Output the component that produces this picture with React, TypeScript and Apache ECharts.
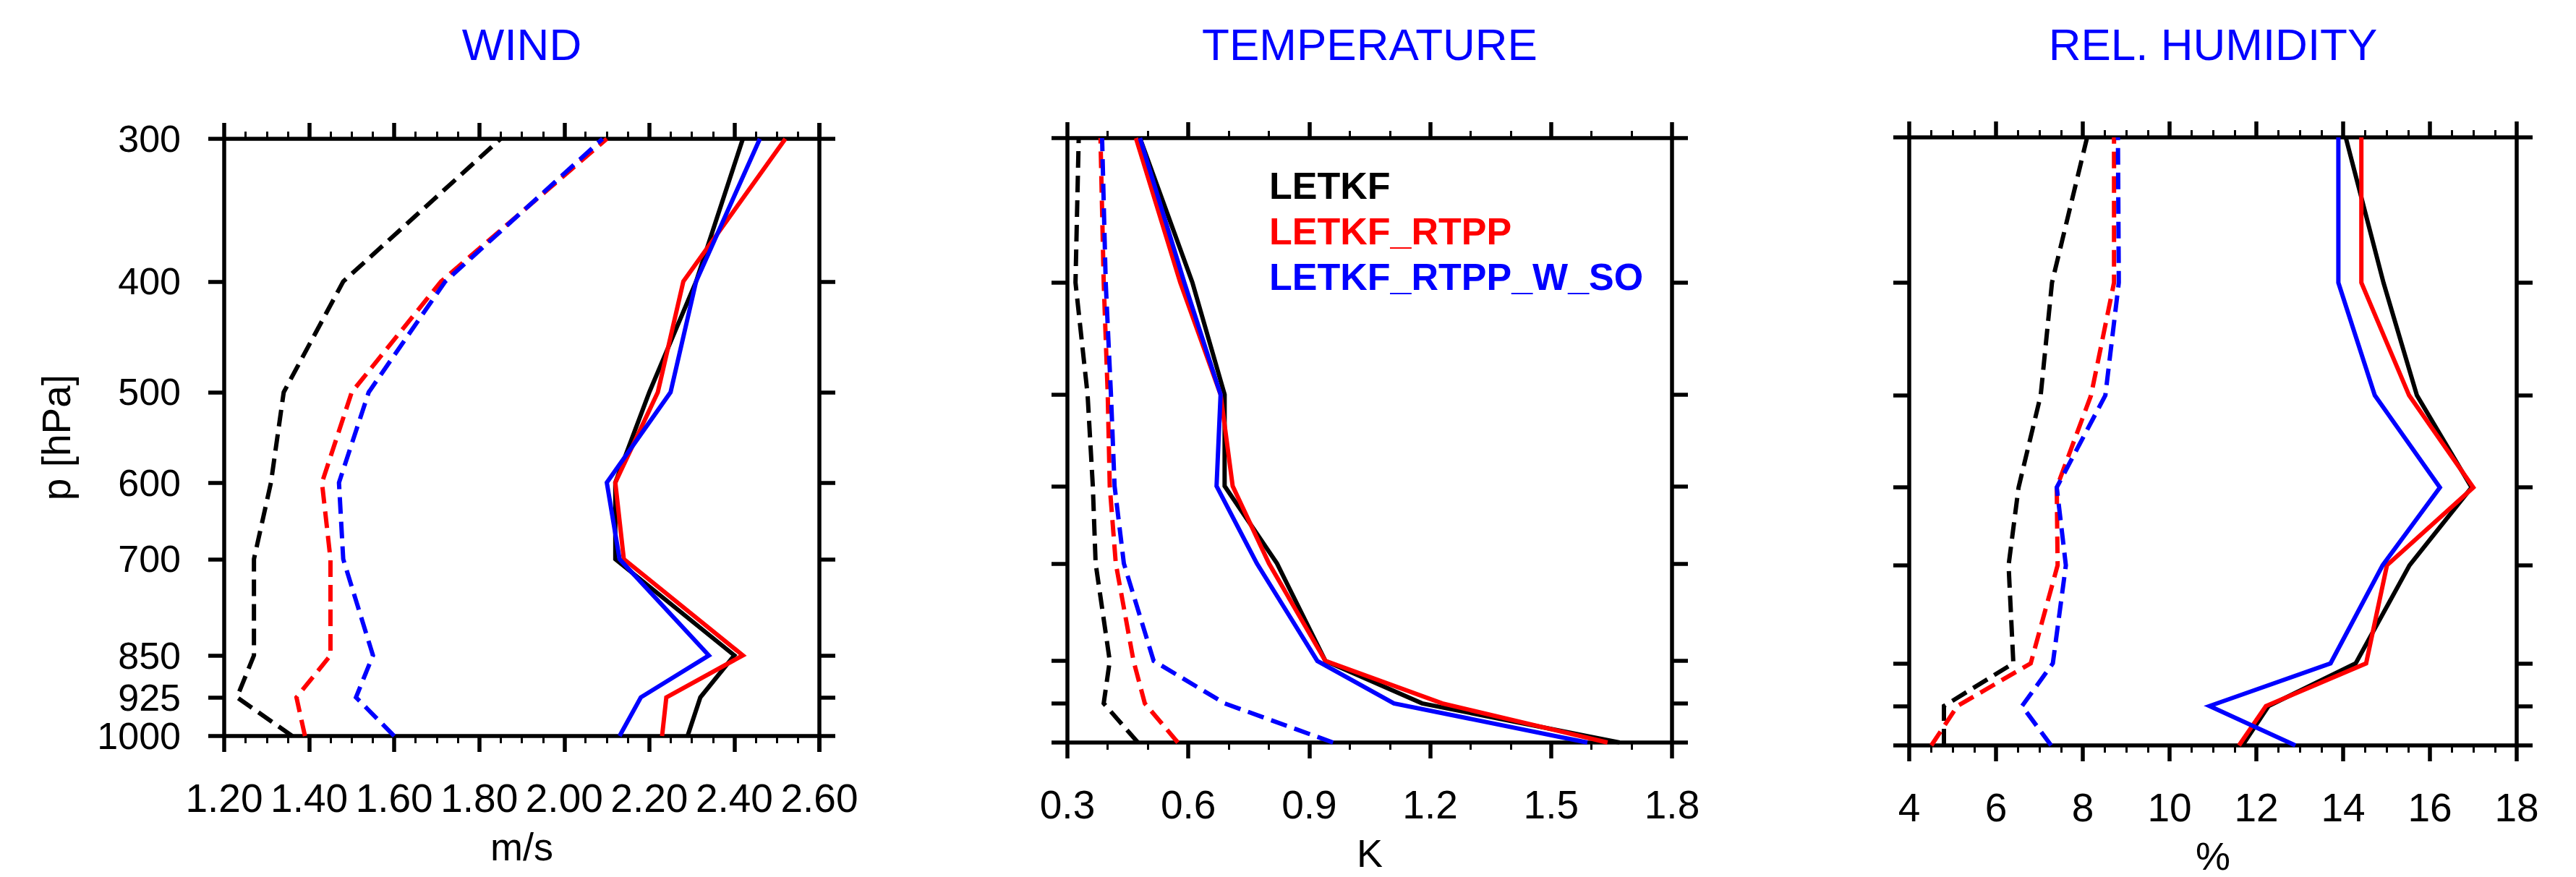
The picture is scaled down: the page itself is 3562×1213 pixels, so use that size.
import React, { useEffect, useRef } from 'react';
import * as echarts from 'echarts';

const FONT = '"Liberation Sans", Arial, Helvetica, sans-serif';

// Pressure levels (hPa) at which every profile is given, from the surface upward
const pressureLevels = [1000, 925, 850, 700, 600, 500, 400, 300];
// Tick labels of the pressure axis
const pressureTicks = [300, 400, 500, 600, 700, 850, 925, 1000];

const experiments = ['LETKF', 'LETKF_RTPP', 'LETKF_RTPP_W_SO'];
const experimentColors = ['#000000', '#ff0000', '#0000ff'];

const panelTitles = ['WIND', 'TEMPERATURE', 'REL. HUMIDITY'];
const panelUnits = ['m/s', 'K', '%'];

// x-axis tick labels
const windTicks = [1.2, 1.4, 1.6, 1.8, 2.0, 2.2, 2.4, 2.6];
const tempTicks = [0.3, 0.6, 0.9, 1.2, 1.5, 1.8];
const humTicks = [4, 6, 8, 10, 12, 14, 16, 18];

// WIND (m/s), values at pressureLevels
const windSolidLETKF = [2.29, 2.32, 2.40, 2.12, 2.12, 2.20, 2.31, 2.42];
const windSolidRTPP = [2.23, 2.24, 2.42, 2.14, 2.12, 2.22, 2.28, 2.52];
const windSolidRTPPWSO = [2.13, 2.18, 2.34, 2.13, 2.10, 2.25, 2.31, 2.46];
const windDashedLETKF = [1.36, 1.23, 1.27, 1.27, 1.31, 1.34, 1.48, 1.85];
const windDashedRTPP = [1.39, 1.37, 1.45, 1.45, 1.43, 1.50, 1.71, 2.10];
const windDashedRTPPWSO = [1.60, 1.51, 1.55, 1.48, 1.47, 1.54, 1.72, 2.09];

// TEMPERATURE (K)
const tempSolidLETKF = [1.67, 1.18, 0.94, 0.82, 0.69, 0.69, 0.61, 0.48];
const tempSolidRTPP = [1.64, 1.23, 0.94, 0.80, 0.71, 0.68, 0.58, 0.47];
const tempSolidRTPPWSO = [1.59, 1.11, 0.92, 0.77, 0.67, 0.68, 0.59, 0.48];
const tempDashedLETKF = [0.475, 0.39, 0.405, 0.37, 0.363, 0.35, 0.32, 0.328];
const tempDashedRTPP = [0.574, 0.492, 0.464, 0.42, 0.405, 0.40, 0.39, 0.382];
const tempDashedRTPPWSO = [0.959, 0.69, 0.514, 0.44, 0.417, 0.408, 0.395, 0.386];

// REL. HUMIDITY (%)
const humSolidLETKF = [11.68, 12.28, 14.29, 15.53, 16.96, 15.70, 14.93, 14.06];
const humSolidRTPP = [11.60, 12.22, 14.53, 15.01, 17.00, 15.52, 14.42, 14.42];
const humSolidRTPPWSO = [12.90, 10.92, 13.71, 14.91, 16.23, 14.73, 13.89, 13.89];
const humDashedLETKF = [4.80, 4.80, 6.40, 6.29, 6.52, 7.03, 7.29, 8.10];
const humDashedRTPP = [4.51, 5.11, 6.80, 7.42, 7.40, 8.19, 8.72, 8.72];
const humDashedRTPPWSO = [7.27, 6.60, 7.31, 7.61, 7.40, 8.52, 8.83, 8.81];

const panelTicks = [windTicks, tempTicks, humTicks];
const panelDecimals = [2, 1, 0];
const panelMinorSplits = [4, 3, 4];
const panelSolid = [
  [windSolidLETKF, windSolidRTPP, windSolidRTPPWSO],
  [tempSolidLETKF, tempSolidRTPP, tempSolidRTPPWSO],
  [humSolidLETKF, humSolidRTPP, humSolidRTPPWSO],
];
const panelDashed = [
  [windDashedLETKF, windDashedRTPP, windDashedRTPPWSO],
  [tempDashedLETKF, tempDashedRTPP, tempDashedRTPPWSO],
  [humDashedLETKF, humDashedRTPP, humDashedRTPPWSO],
];

// layout (pixels)
const gridBoxes = [
  { left: 310, top: 192, width: 823, height: 826 },
  { left: 1476, top: 191, width: 836, height: 836 },
  { left: 2640, top: 190, width: 840, height: 841 },
];

const AXIS_W = 5.5;
const LINE_W = 6;

function buildOption() {
  const axisLine = { show: true, onZero: false, lineStyle: { color: '#000', width: AXIS_W } };
  const axisTick = { show: true, inside: false, length: 22, lineStyle: { color: '#000', width: AXIS_W } };
  const yLabelStyle = {
    margin: 60,
    fontSize: 52,
    lineHeight: 40,
    color: '#000',
    fontFamily: FONT,
    formatter: (v: number) => String(Math.round(v)),
  };
  // 925 sits very close to 1000; it is drawn by a second, line-less axis of the
  // same scale so that the library's overlap logic does not drop either label.
  const mainPressureLabels = pressureTicks.filter((p) => p !== 925);
  const closePressureLabels = pressureTicks.filter((p) => p === 925);

  const xAxes: any[] = [];
  const yAxes: any[] = [];
  const topAxes: any[] = [];
  const rightAxes: any[] = [];
  const extraAxes: any[] = [];
  const series: any[] = [];

  panelTitles.forEach((_, i) => {
    const ticks = panelTicks[i];
    const min = ticks[0];
    const max = ticks[ticks.length - 1];
    const interval = ticks[1] - ticks[0];
    const base = {
      type: 'value',
      gridIndex: i,
      min,
      max,
      interval,
      axisLine,
      axisTick,
      minorTick: {
        show: true,
        splitNumber: panelMinorSplits[i],
        length: 10,
        lineStyle: { color: '#000', width: 3 },
      },
      splitLine: { show: false },
      minorSplitLine: { show: false },
    };
    xAxes.push({
      ...base,
      position: 'bottom',
      axisLabel: {
        show: true,
        margin: 58,
        fontSize: 55,
        color: '#000',
        fontFamily: FONT,
        showMinLabel: true,
        showMaxLabel: true,
        formatter: (v: number) => v.toFixed(panelDecimals[i]),
      },
      name: panelUnits[i],
      nameLocation: 'middle',
      nameGap: 126,
      nameTextStyle: { fontSize: 54, color: '#000', fontFamily: FONT },
    });
    topAxes.push({
      ...base,
      position: 'top',
      axisLabel: { show: false },
    });

    const ybase = {
      type: 'log',
      logBase: 10,
      gridIndex: i,
      min: 300,
      max: 1000,
      inverse: true,
      splitLine: { show: false },
      minorTick: { show: false },
    };
    yAxes.push({
      ...ybase,
      position: 'left',
      axisLine,
      axisTick: { ...axisTick, customValues: pressureTicks },
      axisLabel: {
        ...yLabelStyle,
        show: i === 0,
        customValues: mainPressureLabels,
        showMinLabel: true,
        showMaxLabel: true,
      },
      name: i === 0 ? 'p [hPa]' : '',
      nameLocation: 'middle',
      nameGap: 205,
      nameRotate: 90,
      nameTextStyle: { fontSize: 55, color: '#000', fontFamily: FONT },
    });
    rightAxes.push({
      ...ybase,
      position: 'right',
      axisLine,
      axisTick: { ...axisTick, customValues: pressureTicks },
      axisLabel: { show: false, customValues: pressureTicks },
    });
    if (i === 0) {
      extraAxes.push({
        ...ybase,
        position: 'left',
        axisLine: { show: false },
        axisTick: { show: false, customValues: closePressureLabels },
        axisLabel: { ...yLabelStyle, show: true, customValues: closePressureLabels },
      });
    }

    const addSeries = (values: number[], k: number, dashed: boolean) => {
      series.push({
        type: 'line',
        name: experiments[k] + (dashed ? ' (dashed)' : ' (solid)'),
        xAxisIndex: i,
        yAxisIndex: i,
        symbol: 'none',
        silent: true,
        clip: false,
        lineStyle: {
          color: experimentColors[k],
          width: LINE_W,
          type: dashed ? [23, 11] : 'solid',
          cap: 'butt',
          join: 'miter',
        },
        data: pressureLevels.map((p, j) => [values[j], p]),
      });
    };
    panelDashed[i].forEach((vals, k) => addSeries(vals, k, true));
    panelSolid[i].forEach((vals, k) => addSeries(vals, k, false));
  });

  return {
    animation: false,
    backgroundColor: '#ffffff',
    textStyle: { fontFamily: FONT },
    title: panelTitles.map((t, i) => ({
      text: t,
      left: gridBoxes[i].left + gridBoxes[i].width / 2,
      top: 61,
      textAlign: 'center',
      textVerticalAlign: 'middle',
      padding: 0,
      textStyle: { color: '#0000ff', fontSize: 62, fontWeight: 'normal', fontFamily: FONT },
    })),
    grid: gridBoxes.map((g) => ({ ...g, containLabel: false, outerBoundsMode: 'none' })),
    xAxis: [...xAxes, ...topAxes],
    yAxis: [...yAxes, ...rightAxes, ...extraAxes],
    series,
    graphic: experiments.map((name, k) => ({
      type: 'text',
      x: 1755,
      y: 257 + k * 63,
      silent: true,
      style: {
        text: name,
        fill: experimentColors[k],
        font: 'bold 52px "Liberation Sans", Arial, sans-serif',
        verticalAlign: 'middle',
        textVerticalAlign: 'middle',
      },
    })),
  };
}

export default function App() {
  const ref = useRef<HTMLDivElement>(null);
  useEffect(() => {
    if (!ref.current) return;
    const chart = echarts.init(ref.current, undefined, { renderer: 'svg' });
    chart.setOption(buildOption() as any);
    return () => chart.dispose();
  }, []);
  return (
    <div
      ref={ref}
      style={{ position: 'absolute', left: 0, top: 0, width: 3562, height: 1213, background: '#fff' }}
    />
  );
}
